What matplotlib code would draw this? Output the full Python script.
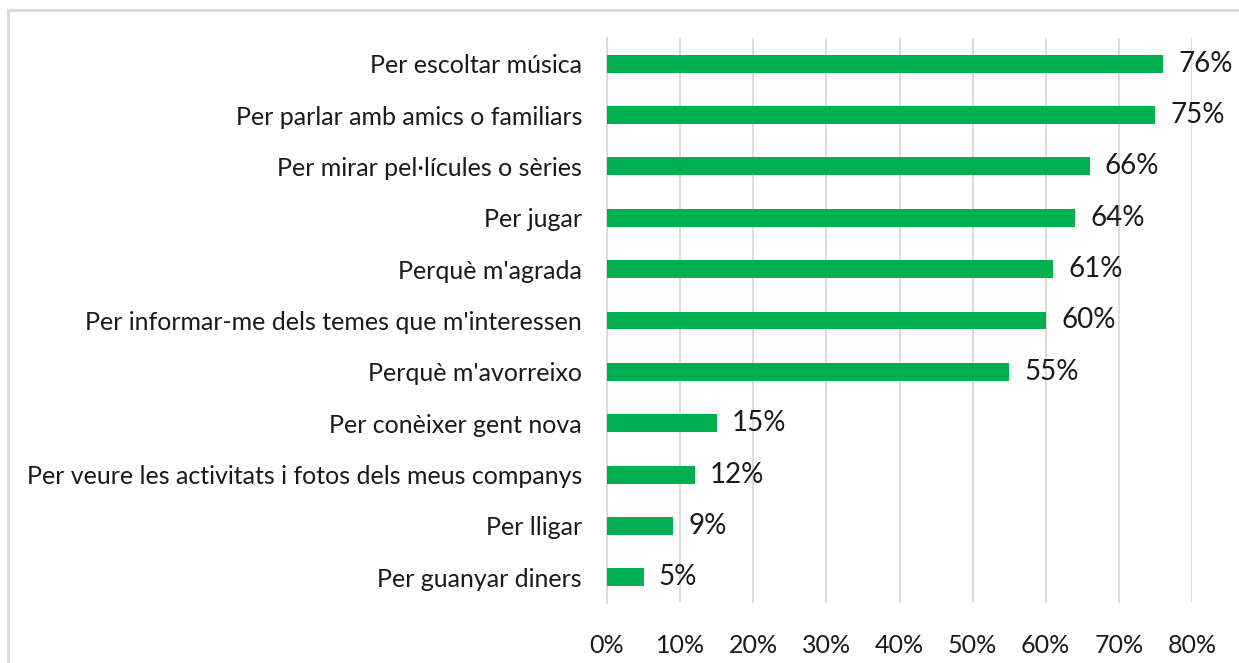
import matplotlib.pyplot as plt
from matplotlib.patches import Rectangle

# Motius d'ús (percentatges)
categories = [
    "Per escoltar música",
    "Per parlar amb amics o familiars",
    "Per mirar pel·lícules o sèries",
    "Per jugar",
    "Perquè m'agrada",
    "Per informar-me dels temes que m'interessen",
    "Perquè m'avorreixo",
    "Per conèixer gent nova",
    "Per veure les activitats i fotos dels meus companys",
    "Per lligar",
    "Per guanyar diners",
]
values = [76, 75, 66, 64, 61, 60, 55, 15, 12, 9, 5]
xticks = [0, 10, 20, 30, 40, 50, 60, 70, 80]

plt.rcParams["font.family"] = ["Lato", "DejaVu Sans"]

fig = plt.figure(figsize=(12.39, 6.63), dpi=100)
ax = fig.add_axes([607 / 1239, 1 - 603 / 663, (1192 - 607) / 1239, (603 - 38) / 663])

# marc exterior del gràfic
fig.patches.append(Rectangle((8 / 1239, -0.05), 1.1, 1 - 10 / 663 + 0.05,
                             transform=fig.transFigure, fill=False,
                             edgecolor="#D9D9D9", linewidth=2))

ypos = list(range(len(categories)))
ax.barh(ypos, values, height=0.35, color="#00B050", zorder=3)

for y, v in zip(ypos, values):
    ax.text(v + 2.1, y, f"{v}%", va="center", ha="left", fontsize=20, color="#1a1a1a")

ax.set_yticks(ypos)
ax.set_yticklabels(categories, fontsize=18, color="#1a1a1a")
ax.invert_yaxis()
ax.set_ylim(len(categories) - 0.5, -0.5)
ax.set_xlim(0, 80)
ax.set_xticks(xticks)
ax.set_xticklabels([f"{t}%" for t in xticks], fontsize=18, color="#1a1a1a")

ax.grid(axis="x", color="#D9D9D9", linewidth=1.3, zorder=0)
for s in ["top", "right", "bottom"]:
    ax.spines[s].set_visible(False)
ax.spines["left"].set_color("#D9D9D9")
ax.spines["left"].set_linewidth(1.3)
ax.tick_params(axis="both", length=0)
ax.tick_params(axis="y", pad=18)
ax.tick_params(axis="x", pad=22)

plt.savefig("out.png", dpi=100)
plt.close()
